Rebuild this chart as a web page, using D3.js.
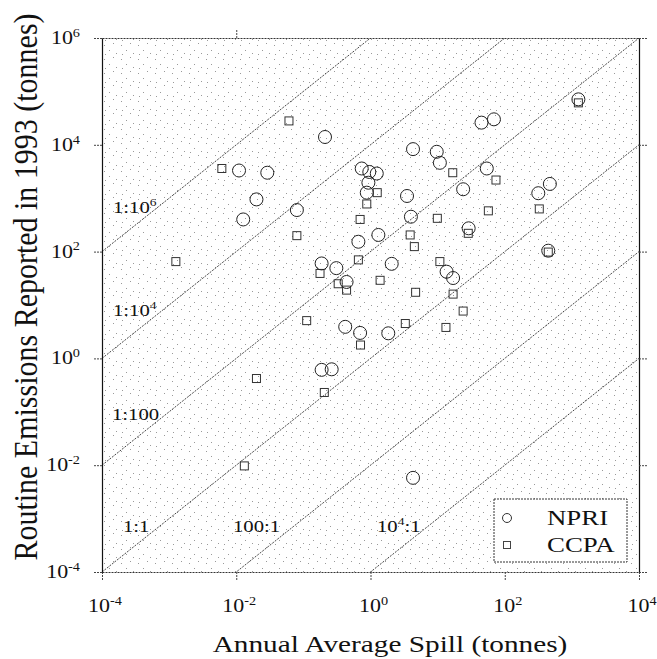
<!DOCTYPE html>
<html>
<head>
<meta charset="utf-8">
<script src="https://cdn.jsdelivr.net/npm/d3@7"></script>
<style>
  body { margin: 0; background: #fff; }
  text { font-family: "Liberation Serif", "DejaVu Serif", serif; fill: #111; }
</style>
</head>
<body>
<svg id="chart"></svg>
<script>
// NPRI points: annual average spill (tonnes) vs routine emissions 1993 (tonnes)
const npriSpill = [0.21, 0.011, 0.029, 0.020, 0.080, 0.0127, 0.74, 0.96, 0.93, 0.88,
  0.66, 1.31, 0.187, 0.31, 0.44, 1250, 45, 69, 4.3, 9.7,
  10.8, 54, 1.24, 24, 470, 316, 3.5, 4.0, 29, 445,
  2.07, 13.6, 17, 0.42, 0.70, 0.187, 0.264, 1.84, 4.3];
const npriEmission = [14000, 3300, 3000, 950, 600, 400, 3600, 3100, 1950, 1270,
  153, 205, 60, 49, 27, 71000, 26000, 30000, 8300, 7400,
  4600, 3600, 2900, 1470, 1850, 1240, 1100, 450, 273, 104,
  59, 42, 32, 3.9, 3.0, 0.61, 0.625, 2.95, 0.0058];

// CCPA points
const ccpaSpill = [0.061, 0.0061, 0.080, 0.00126, 0.88, 0.70, 0.66, 0.33, 0.44, 1.39,
  1250, 16.8, 74, 1.26, 327, 57, 9.9, 28.6, 3.9, 4.5,
  445, 10.8, 4.7, 17, 0.112, 0.71, 0.020, 0.205, 0.0132, 24,
  3.3, 13.3, 0.177];
const ccpaEmission = [28000, 3600, 199, 65, 780, 400, 70, 25, 19, 29,
  61000, 3000, 2190, 1270, 630, 580, 420, 220, 205, 124,
  98, 65, 17.3, 16, 5.1, 1.78, 0.42, 0.23, 0.0097, 7.7,
  4.5, 3.8, 39];

// emission = ratio * spill reference lines
const ratios = [1e6, 1e4, 1e2, 1, 1e-2, 1e-4];
const ratioLabels = [
  [["1:10"], ["6", true]],
  [["1:10"], ["4", true]],
  [["1:100"]],
  [["1:1"]],
  [["100:1"]],
  [["10"], ["4", true], [":1"]]
];

const xTicks = [1e-4, 1e-2, 1, 1e2, 1e4];
const yTicks = [1e-4, 1e-2, 1, 1e2, 1e4, 1e6];
const seriesNames = ["NPRI", "CCPA"];

const width = 657;
const height = 659;
const margin = { top: 38, right: 18, bottom: 87, left: 102 };
const SX = 1.22; // the scanned figure is stretched sideways

const svg = d3.select("#chart").attr("width", width).attr("height", height);

const x = d3.scaleLog().domain([1e-4, 1e4]).range([margin.left, width - margin.right]);
const y = d3.scaleLog().domain([1e-4, 1e6]).range([height - margin.bottom, margin.top]);

// stippled background, sparse like the scan
const defs = svg.append("defs");
const pat = defs.append("pattern")
  .attr("id", "stipple")
  .attr("patternUnits", "userSpaceOnUse")
  .attr("width", 17).attr("height", 14);
[[2, 3], [11, 1], [7, 8], [14, 11], [3, 12]].forEach(([cx, cy]) => {
  pat.append("rect").attr("x", cx).attr("y", cy).attr("width", 1).attr("height", 1).attr("fill", "#9a9a9a");
});
defs.append("clipPath").attr("id", "plotclip")
  .append("rect")
  .attr("x", x.range()[0]).attr("y", y.range()[1])
  .attr("width", x.range()[1] - x.range()[0])
  .attr("height", y.range()[0] - y.range()[1]);

svg.append("rect")
  .attr("x", x.range()[0]).attr("y", y.range()[1])
  .attr("width", x.range()[1] - x.range()[0])
  .attr("height", y.range()[0] - y.range()[1])
  .attr("fill", "url(#stipple)");

// helper: text with superscripts, stretched horizontally
function label(parent, px, py, parts, opts) {
  const o = Object.assign({ size: 18, anchor: "start", sx: SX, rotate: 0 }, opts);
  const g = parent.append("g")
    .attr("transform", `translate(${px},${py}) scale(${o.sx},1)` + (o.rotate ? ` rotate(${o.rotate})` : ""));
  const t = g.append("text").attr("text-anchor", o.anchor).style("font-size", o.size + "px");
  let up = false;
  parts.forEach(([s, sup]) => {
    const ts = t.append("tspan").text(s);
    if (sup && !up) { ts.attr("dy", -o.size * 0.4).style("font-size", (o.size * 0.65) + "px"); up = true; }
    else if (!sup && up) { ts.attr("dy", o.size * 0.4); up = false; }
  });
  return t;
}

// ratio lines
const lineG = svg.append("g").attr("clip-path", "url(#plotclip)");
ratios.forEach((k) => {
  lineG.append("line")
    .attr("x1", x(1e-4)).attr("y1", y(k * 1e-4))
    .attr("x2", x(1e4)).attr("y2", y(k * 1e4))
    .attr("stroke", "#333")
    .attr("stroke-width", 0.9)
    .attr("stroke-dasharray", "2,1.2");
});

// ratio labels
const ratioPos = [[113, 213], [113, 316], [112, 420], [123, 532], [233, 532], [377, 532]];
ratioLabels.forEach((parts, i) => {
  label(svg, ratioPos[i][0], ratioPos[i][1], parts, { size: 17 });
});

// axes
const bottomAxis = d3.axisBottom(x).tickValues(xTicks).tickFormat("").tickSizeInner(8).tickSizeOuter(0);
const topAxis = d3.axisTop(x).tickValues([1e-2]).tickFormat("").tickSizeInner(9).tickSizeOuter(0);
const leftAxis = d3.axisLeft(y).tickValues(yTicks).tickFormat("").tickSizeInner(9).tickSizeOuter(0);
const rightAxis = d3.axisRight(y).tickValues(yTicks).tickFormat("").tickSizeInner(9).tickSizeOuter(0);

const gb = svg.append("g").attr("transform", `translate(0,${y.range()[0]})`).call(bottomAxis);
const gt = svg.append("g").attr("transform", `translate(0,${y.range()[1]})`).call(topAxis);
const gl = svg.append("g").attr("transform", `translate(${x.range()[0]},0)`).call(leftAxis);
const gr = svg.append("g").attr("transform", `translate(${x.range()[1]},0)`).call(rightAxis);
[gb, gt].forEach((g) => g.select(".domain").attr("stroke", "#333").attr("stroke-dasharray", "2,1"));
[gl, gr].forEach((g) => g.select(".domain").attr("stroke", "#111").attr("stroke-width", 1.2));
[gb, gt, gl, gr].forEach((g) => g.selectAll(".tick line").attr("stroke", "#444").attr("stroke-dasharray", "2,1"));

// tick labels
xTicks.forEach((v) => {
  label(svg, x(v) + 3, 612, [["10"], [String(Math.round(Math.log10(v))), true]], { anchor: "middle" });
});
yTicks.forEach((v) => {
  label(svg, 80, y(v) + 6, [["10"], [String(Math.round(Math.log10(v))), true]], { anchor: "end" });
});

// axis titles
label(svg, 390, 652, [["Annual Average Spill (tonnes)"]], { size: 24, anchor: "middle" });
label(svg, 37, 287, [["Routine Emissions Reported in 1993 (tonnes)"]], { size: 30, anchor: "middle", sx: 1.1, rotate: -90 });

// markers
const npri = npriSpill.map((s, i) => ({ s, e: npriEmission[i] }));
const ccpa = ccpaSpill.map((s, i) => ({ s, e: ccpaEmission[i] }));

svg.append("g").selectAll("rect")
  .data(ccpa)
  .join("rect")
  .attr("x", (d) => x(d.s) - 4)
  .attr("y", (d) => y(d.e) - 4)
  .attr("width", 8).attr("height", 8)
  .attr("fill", "none")
  .attr("stroke", "#333")
  .attr("stroke-width", 1);

svg.append("g").selectAll("circle")
  .data(npri)
  .join("circle")
  .attr("cx", (d) => x(d.s))
  .attr("cy", (d) => y(d.e))
  .attr("r", 6.5)
  .attr("fill", "none")
  .attr("stroke", "#222")
  .attr("stroke-width", 1);

// legend
const legend = svg.append("g");
legend.append("rect")
  .attr("x", 494).attr("y", 499)
  .attr("width", 133).attr("height", 63)
  .attr("fill", "#fff")
  .attr("stroke", "#333")
  .attr("stroke-dasharray", "2,1");
seriesNames.forEach((name, i) => {
  const cy = 518 + i * 27;
  if (i === 0) {
    legend.append("circle").attr("cx", 507).attr("cy", cy).attr("r", 4.5)
      .attr("fill", "none").attr("stroke", "#333");
  } else {
    legend.append("rect").attr("x", 503.5).attr("y", cy - 3.5).attr("width", 7).attr("height", 7)
      .attr("fill", "none").attr("stroke", "#444");
  }
  label(legend, 547, cy + 7, [[name]], { size: 22 });
});
</script>
</body>
</html>
